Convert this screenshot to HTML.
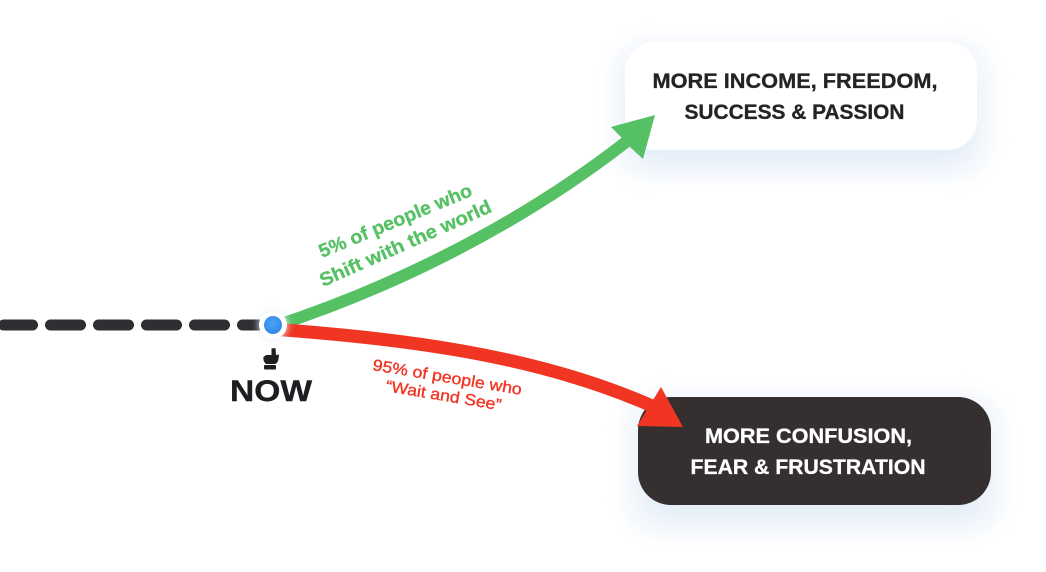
<!DOCTYPE html>
<html><head><meta charset="utf-8"><style>html,body{margin:0;padding:0;background:#fff}svg{display:block}text{font-family:"Liberation Sans",sans-serif;font-weight:700}</style></head>
<body>
<svg width="1046" height="572" viewBox="0 0 1046 572" xmlns="http://www.w3.org/2000/svg">
<defs>
<filter id="s" x="-20%" y="-40%" width="140%" height="190%"><feGaussianBlur stdDeviation="6"/></filter>
<filter id="t" x="-20%" y="-40%" width="140%" height="190%"><feGaussianBlur stdDeviation="9"/></filter>
<filter id="g" x="-50%" y="-50%" width="200%" height="200%"><feGaussianBlur stdDeviation="3"/></filter>
<radialGradient id="b" cx="45%" cy="40%" r="65%"><stop offset="0" stop-color="#4aa3f5"/><stop offset="1" stop-color="#2f86e8"/></radialGradient>
</defs>
<rect x="608" y="36" width="387" height="145" rx="42" fill="#edf3fa" opacity=".55" filter="url(#s)"/>
<rect x="628" y="60" width="346" height="104" rx="30" fill="#d5e4f4" opacity=".5" filter="url(#t)"/>
<rect x="625" y="42" width="352" height="108" rx="30" fill="#fff"/>
<rect x="620" y="389" width="388" height="149" rx="42" fill="#edf3fa" opacity=".55" filter="url(#s)"/>
<rect x="641" y="415" width="347" height="104" rx="30" fill="#d5e4f4" opacity=".5" filter="url(#t)"/>
<rect x="638" y="397" width="353" height="108" rx="33" fill="#352f2f"/>
<g fill="#2f2f33">
<rect x="-2" y="319.500" width="40" height="11" rx="5.500"/>
<rect x="45" y="319.500" width="41" height="11" rx="5.500"/>
<rect x="93" y="319.500" width="41" height="11" rx="5.500"/>
<rect x="141" y="319.500" width="41" height="11" rx="5.500"/>
<rect x="189" y="319.500" width="41" height="11" rx="5.500"/>
<rect x="237" y="319.500" width="30" height="11" rx="5.500"/>
</g>
<path d="M272 327C380 292 510 232 626 142" fill="none" stroke="#55c164" stroke-width="12"/>
<path d="M655 115L611 127L621 137L630 147L643 159Z" fill="#55c164"/>
<path d="M272 329C390 338 530 352 652 406" fill="none" stroke="#f13523" stroke-width="13"/>
<path d="M683 427L661 387L637 426Z" fill="#f13523"/>
<circle cx="273" cy="325" r="16" fill="#e3eefa" opacity=".6" filter="url(#g)"/>
<circle cx="273" cy="325" r="14" fill="#fff"/>
<circle cx="273" cy="325" r="9" fill="url(#b)"/>
<path d="M271.500 348.500L275.500 348L276 355L279 354.500L278.500 359C278 362 276.500 364 274.500 364L266 364C264 362 263 360 263.500 357L266 355L271.500 355Z" fill="#1f1f23"/>
<rect x="264" y="365" width="12" height="4.500" rx="1" fill="#1f1f23"/>
<text x="230" y="401" font-size="30" fill="#1d1d22" stroke="#1d1d22" stroke-width=".4" textLength="82" lengthAdjust="spacingAndGlyphs">NOW</text>
<g font-size="21" fill="#252325" stroke="#252325" stroke-width=".3" text-anchor="middle">
<text x="795" y="88" textLength="285" lengthAdjust="spacingAndGlyphs">MORE INCOME, FREEDOM,</text>
<text x="794.500" y="119" textLength="220" lengthAdjust="spacingAndGlyphs">SUCCESS &amp; PASSION</text>
</g>
<g font-size="21" fill="#fff" stroke="#fff" stroke-width=".3" text-anchor="middle">
<text x="808.500" y="443" textLength="207" lengthAdjust="spacingAndGlyphs">MORE CONFUSION,</text>
<text x="808" y="474" textLength="235" lengthAdjust="spacingAndGlyphs">FEAR &amp; FRUSTRATION</text>
</g>
<g fill="#55c164" stroke="#55c164" stroke-width=".3" font-size="19">
<text transform="translate(322 258) rotate(-22.500)" textLength="164" lengthAdjust="spacingAndGlyphs">5% of people who</text>
<text transform="translate(323 287) rotate(-24)" textLength="186" lengthAdjust="spacingAndGlyphs">Shift with the world</text>
</g>
<g fill="#f13523" stroke="#f13523" stroke-width=".35" font-size="16" style="font-weight:400">
<text transform="translate(372 370) rotate(9.500)" style="font-weight:400" textLength="151" lengthAdjust="spacingAndGlyphs">95% of people who</text>
<text transform="translate(385 391) rotate(9.500)" style="font-weight:400" textLength="117" lengthAdjust="spacingAndGlyphs">“Wait and See”</text>
</g>
</svg>
</body></html>
